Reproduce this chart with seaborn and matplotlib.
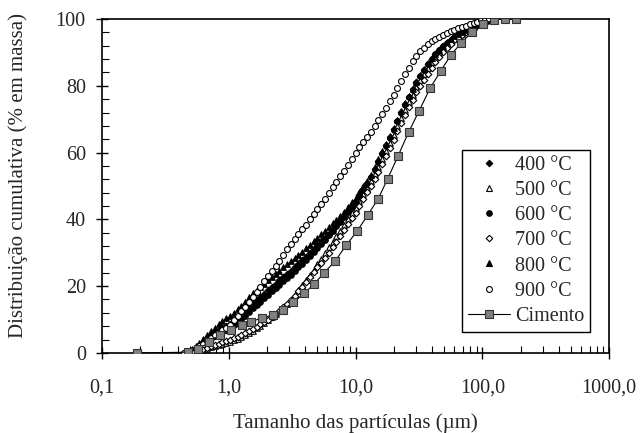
import matplotlib
matplotlib.use("Agg")
import matplotlib.pyplot as plt
from matplotlib.lines import Line2D
from matplotlib.ticker import FixedLocator, MultipleLocator, LogLocator, NullFormatter
import seaborn as sns
import pandas as pd

# ---- data ----
sizes = [0.447, 0.479, 0.513, 0.550, 0.589, 0.631, 0.676, 0.724, 0.776, 0.832,
         0.891, 0.955, 1.023, 1.096, 1.175, 1.259, 1.349, 1.445, 1.549, 1.660,
         1.778, 1.905, 2.042, 2.188, 2.344, 2.512, 2.692, 2.884, 3.090, 3.311,
         3.548, 3.802, 4.074, 4.365, 4.677, 5.012, 5.370, 5.754, 6.166, 6.607,
         7.079, 7.586, 8.128, 8.710, 9.333, 10.00, 10.72, 11.48, 12.30, 13.18,
         14.13, 15.14, 16.22, 17.38, 18.62, 19.95, 21.38, 22.91, 24.55, 26.30,
         28.18, 30.20, 32.36, 34.67, 37.15, 39.81, 42.66, 45.71, 48.98, 52.48,
         56.23, 60.26, 64.57, 69.18, 74.13, 79.43, 85.11, 91.20, 97.72, 104.7,
         112.2, 120.2]

c400 = [0, 0.3, 0.9, 1.6, 2.3, 3.2, 4.2, 5.2, 6.0, 6.8, 7.4, 8.1, 8.7, 9.5, 10.4,
        11.4, 12.5, 13.7, 14.8, 15.8, 16.7, 17.7, 18.8, 19.8, 20.7, 21.7, 22.7,
        23.7, 24.6, 25.6, 26.6, 27.7, 28.8, 30.0, 31.1, 32.3, 33.4, 34.5, 35.7,
        37.0, 38.3, 39.6, 41.0, 42.5, 44.0, 45.6, 47.3, 49.1, 50.9, 52.8, 55.1,
        57.5, 59.9, 62.3, 64.7, 67.1, 69.6, 72.1, 74.5, 76.8, 78.9, 81.0, 82.9,
        84.7, 86.5, 88.1, 89.5, 90.7, 91.9, 92.9, 93.8, 94.7, 95.4, 96.1, 96.7,
        97.3, 97.9, 98.5, 99.0, 99.5, 99.8, 100]
c500 = [0, 0.1, 0.3, 0.5, 0.7, 1.0, 1.3, 1.7, 2.0, 2.4, 2.8, 3.1, 3.4, 3.8, 4.3,
        4.8, 5.3, 6.0, 6.7, 7.4, 8.2, 9.0, 9.8, 10.7, 11.6, 12.5, 13.6, 14.7,
        15.9, 17.3, 18.8, 20.2, 21.7, 23.3, 24.9, 26.5, 28.2, 29.9, 31.6, 33.3,
        35.0, 36.6, 38.3, 40.0, 41.8, 43.5, 45.5, 47.5, 49.5, 51.5, 53.6, 55.8,
        58.0, 60.5, 63.0, 65.4, 67.9, 70.4, 72.9, 75.2, 77.4, 79.7, 81.6, 83.4,
        85.2, 87.0, 88.4, 89.7, 91.0, 92.0, 93.1, 94.1, 94.9, 95.6, 96.3, 97.0,
        97.6, 98.2, 98.9, 99.4, 99.7, 100]
c600 = [0, 0.2, 0.7, 1.3, 1.9, 2.7, 3.5, 4.4, 5.1, 5.8, 6.4, 7.0, 7.6, 8.4, 9.2,
        10.1, 11.1, 12.2, 13.3, 14.3, 15.3, 16.3, 17.4, 18.4, 19.4, 20.4, 21.4,
        22.4, 23.4, 24.5, 25.6, 26.7, 27.9, 29.1, 30.3, 31.5, 32.7, 33.9, 35.2,
        36.5, 37.9, 39.3, 40.7, 42.2, 43.7, 45.3, 47.0, 48.8, 50.7, 52.6, 54.8,
        57.2, 59.6, 62.0, 64.4, 66.9, 69.4, 71.9, 74.3, 76.6, 78.7, 80.8, 82.8,
        84.6, 86.4, 88.0, 89.4, 90.6, 91.8, 92.8, 93.7, 94.6, 95.3, 96.0, 96.7,
        97.3, 97.9, 98.5, 99.0, 99.5, 99.8, 100]
c700 = [0, 0.1, 0.4, 0.6, 0.9, 1.2, 1.6, 2.0, 2.4, 2.8, 3.2, 3.6, 3.9, 4.4, 4.8,
        5.3, 5.9, 6.5, 7.1, 7.9, 8.6, 9.3, 10.0, 10.9, 11.7, 12.6, 13.6, 14.7,
        15.8, 17.1, 18.4, 19.7, 21.1, 22.6, 24.1, 25.6, 27.0, 28.5, 30.0, 31.6,
        33.3, 35.1, 36.9, 38.6, 40.3, 42.0, 44.0, 46.0, 48.1, 50.0, 52.1, 54.2,
        56.5, 58.9, 61.4, 63.9, 66.4, 68.9, 71.4, 73.6, 75.9, 78.2, 80.0, 81.8,
        83.6, 85.4, 87.0, 88.5, 90.0, 91.3, 92.5, 93.6, 94.4, 95.2, 96.0, 96.7,
        97.4, 98.1, 98.8, 99.3, 99.7, 100]
c800 = [0, 0.5, 1.3, 2.2, 3.0, 4.1, 5.4, 6.6, 7.6, 8.6, 9.5, 10.4, 11.1, 12.0,
        13.0, 14.0, 15.3, 16.6, 17.8, 18.8, 19.6, 20.6, 21.8, 22.7, 23.6, 24.6,
        25.6, 26.5, 27.4, 28.3, 29.3, 30.3, 31.3, 32.4, 33.4, 34.5, 35.5, 36.5,
        37.6, 38.8, 39.9, 41.1, 42.3, 43.7, 45.1, 46.5, 48.2, 49.9, 51.6, 53.4,
        55.7, 58.0, 60.4, 62.7, 65.0, 67.4, 69.9, 72.4, 74.8, 77.0, 79.1, 81.2,
        83.1, 84.9, 86.7, 88.3, 89.6, 90.8, 92.0, 93.0, 93.9, 94.8, 95.5, 96.1,
        96.8, 97.4, 97.9, 98.5, 99.1, 99.5, 99.8, 100]
c900 = [0, 0.2, 0.6, 1.3, 2.1, 2.8, 3.6, 4.4, 5.3, 6.1, 6.8, 7.5, 8.4, 9.8, 11.1,
        12.4, 13.8, 15.2, 16.7, 18.3, 19.8, 21.4, 23.0, 24.5, 26.0, 27.6, 29.3,
        31.0, 32.6, 34.1, 35.5, 37.0, 38.4, 40.0, 41.5, 43.0, 44.6, 46.2, 47.9,
        49.6, 51.3, 52.9, 54.4, 56.3, 58.2, 60.0, 61.6, 63.1, 64.6, 66.3, 68.0,
        69.8, 71.6, 73.5, 75.4, 77.4, 79.4, 81.4, 83.4, 85.4, 87.3, 89.0, 90.3,
        91.4, 92.4, 93.4, 94.1, 94.7, 95.3, 95.8, 96.3, 96.8, 97.2, 97.6, 98.0,
        98.4, 98.8, 99.2, 99.6, 99.8, 100, 100]

cim_sizes = [0.19, 0.475, 0.578, 0.703, 0.859, 1.04, 1.28, 1.50, 1.82, 2.23, 2.68,
             3.24, 3.94, 4.67, 5.67, 6.90, 8.43, 10.3, 12.5, 15.1, 17.9, 21.7,
             26.2, 31.8, 38.6, 47.0, 56.4, 67.8, 82.8, 100.7, 123.0, 150.0, 183.0]
cim_vals = [0, 0.2, 1.2, 3.2, 5.5, 7.0, 8.5, 9.4, 10.4, 11.4, 12.9, 15.2, 17.8,
            20.5, 24.0, 27.5, 32.2, 36.5, 41.3, 46.2, 52.1, 59.1, 66.1, 72.6,
            79.2, 84.5, 89.2, 92.8, 96.1, 98.4, 99.8, 100, 100]

labels = ["400 °C", "500 °C", "600 °C", "700 °C", "800 °C", "900 °C"]
series = [c400, c500, c600, c700, c800, c900]
xticks = [0.1, 1, 10, 100, 1000]
xticklabels = ["0,1", "1,0", "10,0", "100,0", "1000,0"]

# ---- styles ----
styles = [
    dict(marker="D", fc="black", s=11),
    dict(marker="^", fc="white", s=16),
    dict(marker="o", fc="black", s=16),
    dict(marker="D", fc="white", s=11),
    dict(marker="^", fc="black", s=16),
    dict(marker="o", fc="white", s=18),
]

sns.set_style("white")
plt.rcParams["font.family"] = ["Liberation Serif", "DejaVu Serif"]

fig, ax = plt.subplots(figsize=(6.4, 4.33), dpi=100)
fig.subplots_adjust(left=0.159, right=0.952, bottom=0.185, top=0.956)

for lab, vals, st in zip(labels, series, styles):
    df = pd.DataFrame({"d": sizes, "p": vals})
    sns.scatterplot(data=df, x="d", y="p", ax=ax, marker=st["marker"],
                    s=st["s"], color=st["fc"], edgecolor="black",
                    linewidth=0.8, legend=False, zorder=3)

dfc = pd.DataFrame({"d": cim_sizes, "p": cim_vals})
sns.lineplot(data=dfc, x="d", y="p", ax=ax, color="black", linewidth=0.8,
             marker="s", markersize=5.5, markerfacecolor="#808080",
             markeredgecolor="#333333", markeredgewidth=0.8, legend=False,
             zorder=4, estimator=None, sort=False)

ax.set_xscale("log")
ax.set_xlim(0.1, 1000)
ax.set_ylim(0, 100)
ax.xaxis.set_major_locator(FixedLocator(xticks))
ax.set_xticklabels(xticklabels)
ax.xaxis.set_minor_locator(LogLocator(base=10, subs=range(2, 10), numticks=20))
ax.xaxis.set_minor_formatter(NullFormatter())
ax.yaxis.set_major_locator(MultipleLocator(20))
ax.yaxis.set_minor_locator(MultipleLocator(4))

ax.tick_params(axis="both", which="major", direction="inout", length=9,
               width=1, color="black", labelsize=14.5, bottom=True, left=True)
ax.tick_params(axis="x", which="major", pad=14)
ax.tick_params(axis="y", which="major", pad=7)
ax.tick_params(axis="both", which="minor", direction="in", length=5,
               width=0.8, color="black", bottom=True, left=True)
for sp in ax.spines.values():
    sp.set_color("black")
    sp.set_linewidth(1.2)

ax.set_xlabel("Tamanho das partículas (µm)", fontsize=15, labelpad=11)
ax.set_ylabel("Distribuição cumulativa (% em massa)", fontsize=15, labelpad=12)
ax.yaxis.set_label_coords(-0.145, 0.53)

handles = []
for lab, st in zip(labels, styles):
    handles.append(Line2D([], [], linestyle="none", marker=st["marker"],
                          markersize=(st["s"] ** 0.5) * 1.0,
                          markerfacecolor=st["fc"], markeredgecolor="black",
                          markeredgewidth=0.8, label=lab))
handles.append(Line2D([], [], color="black", linewidth=0.8, marker="s",
                      markersize=5.5, markerfacecolor="#808080",
                      markeredgecolor="#333333", markeredgewidth=0.8,
                      label="Cimento"))
leg = ax.legend(handles=handles, loc="lower right",
                bbox_to_anchor=(0.9625, 0.063), bbox_transform=ax.transAxes,
                borderaxespad=0, frameon=True, fancybox=False, shadow=False,
                fontsize=14.5, handlelength=2.1, handletextpad=0.25,
                labelspacing=0.3, borderpad=0.3)
leg.get_frame().set_edgecolor("black")
leg.get_frame().set_linewidth(1.0)
leg.get_frame().set_alpha(1)

fig.savefig("out.png", dpi=100)
